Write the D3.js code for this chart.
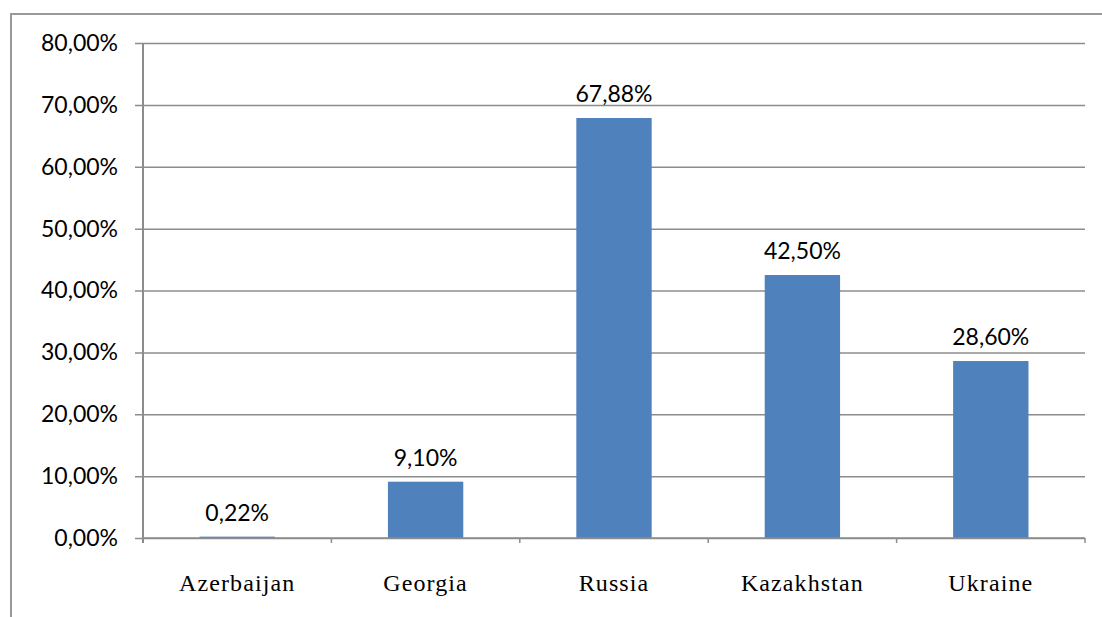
<!DOCTYPE html>
<html>
<head>
<meta charset="utf-8">
<script src="https://cdn.jsdelivr.net/npm/d3@7"></script>
<style>
	body { margin: 0; background: #fff; }
	svg { display: block; }
	.y.axis text { font-family: Lato, "Open Sans", sans-serif; font-size: 23px; fill: #000; }
	.x.axis text { font-family: "Liberation Serif", "Times New Roman", serif; font-weight: normal; font-size: 24px; letter-spacing: 1.1px; fill: #000; }
	.dataLabels { font-family: Lato, "Open Sans", sans-serif; font-size: 23px; fill: #000; }
</style>
</head>
<body>
<div id="graphic"></div>
<script>
// chart data
const categories = ['Azerbaijan', 'Georgia', 'Russia', 'Kazakhstan', 'Ukraine'];
const values = [0.22, 9.10, 67.88, 42.50, 28.60];
const yTicks = [0, 10, 20, 30, 40, 50, 60, 70, 80];

const width = 1102, height = 617;
const margin = { top: 43, right: 17, bottom: 79, left: 143 };
const chartWidth = width - margin.left - margin.right;
const chartHeight = height - margin.top - margin.bottom;

const pct = (v) => d3.format('.2f')(v).replace('.', ',') + '%';

const svg = d3.select('#graphic')
	.append('svg')
	.attr('width', width)
	.attr('height', height);

// outer chart border (runs off the right and bottom of the frame)
svg.append('rect')
	.attr('x', 11)
	.attr('y', 14)
	.attr('width', width)
	.attr('height', height)
	.attr('fill', 'none')
	.attr('stroke', '#999')
	.attr('stroke-width', 2);

const chart = svg.append('g')
	.attr('transform', 'translate(' + margin.left + ',' + margin.top + ')');

//set up scales
const x = d3.scaleBand().domain(categories).range([0, chartWidth]).paddingInner(0.6).paddingOuter(0.3);
const xBoundary = d3.scaleLinear().domain([0, categories.length]).range([0, chartWidth]);
const y = d3.scaleLinear().domain([0, 80]).range([chartHeight, 0]);

// gridlines + y axis
chart.append('g')
	.attr('class', 'y axis')
	.call(d3.axisLeft(y).tickValues(yTicks).tickSize(-chartWidth).tickPadding(25).tickFormat(pct))
	.call((g) => g.select('.domain').remove())
	.call((g) => g.selectAll('line').attr('stroke', '#8c8c8c').attr('stroke-width', 1.5).attr('x1', -8));

chart.append('line')
	.attr('x1', 0).attr('x2', 0)
	.attr('y1', 0).attr('y2', chartHeight + 5)
	.attr('stroke', '#8c8c8c')
	.attr('stroke-width', 2);

// category boundary ticks
chart.selectAll('line.catTick')
	.data(d3.range(categories.length + 1))
	.join('line')
	.attr('class', 'catTick')
	.attr('x1', (d) => xBoundary(d))
	.attr('x2', (d) => xBoundary(d))
	.attr('y1', chartHeight)
	.attr('y2', chartHeight + 5)
	.attr('stroke', '#8c8c8c')
	.attr('stroke-width', 1.5);

// bars
chart.selectAll('rect.bar')
	.data(values)
	.join('rect')
	.attr('class', 'bar')
	.attr('x', (d, i) => x(categories[i]))
	.attr('width', x.bandwidth())
	.attr('y', (d) => y(d))
	.attr('height', (d) => y(0) - y(d))
	.attr('fill', '#4f81bd');

// baseline redrawn on top of bars
chart.append('line')
	.attr('x1', 0).attr('x2', chartWidth)
	.attr('y1', chartHeight).attr('y2', chartHeight)
	.attr('stroke', '#8c8c8c')
	.attr('stroke-width', 1.5);

// data labels
chart.selectAll('text.dataLabels')
	.data(values)
	.join('text')
	.attr('class', 'dataLabels')
	.attr('x', (d, i) => x(categories[i]) + x.bandwidth() / 2)
	.attr('y', (d) => y(d) - 16)
	.attr('text-anchor', 'middle')
	.text(pct);

// category labels
chart.append('g')
	.attr('class', 'x axis')
	.selectAll('text')
	.data(categories)
	.join('text')
	.attr('x', (d) => x(d) + x.bandwidth() / 2)
	.attr('y', chartHeight + 53)
	.attr('text-anchor', 'middle')
	.text((d) => d);
</script>
</body>
</html>
